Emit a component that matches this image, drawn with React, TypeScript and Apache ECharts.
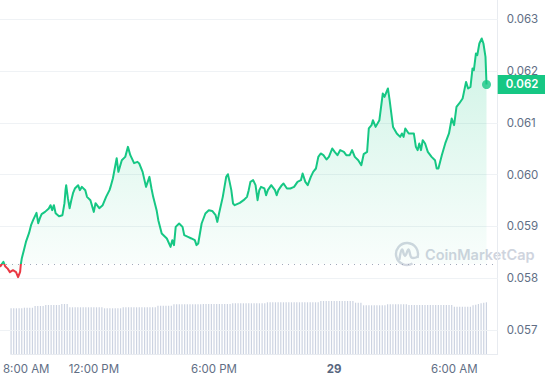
import React, { useEffect, useRef } from "react";
import * as echarts from "echarts";

// [minutes since 00:00 on the 28th, price in USD]
const pricePoints: [number, number][] = [
  [471, 0.058221], [481, 0.058317], [486, 0.058234], [494, 0.058182], [500, 0.058119],
  [509, 0.058157], [518, 0.058119], [524, 0.058022], [530, 0.058125], [532, 0.058267],
  [535, 0.058389], [541, 0.058543], [547, 0.058703], [556, 0.058871], [562, 0.059025],
  [568, 0.059122], [578, 0.059263], [583, 0.059064], [588, 0.059161], [593, 0.059238],
  [603, 0.059282], [614, 0.059348], [619, 0.059411], [624, 0.059315], [629, 0.059411],
  [634, 0.059257], [644, 0.059199], [654, 0.059218], [660, 0.05945], [663, 0.059701],
  [665, 0.059797], [670, 0.059546], [675, 0.059353], [680, 0.059508], [685, 0.059643],
  [691, 0.059739], [700, 0.059797], [705, 0.059701], [711, 0.059764], [721, 0.059701],
  [726, 0.059572], [736, 0.059508], [746, 0.059282], [751, 0.05945], [762, 0.059353],
  [772, 0.059411], [782, 0.059572], [792, 0.059701], [795, 0.059764], [802, 0.059932],
  [813, 0.060318], [818, 0.060054], [828, 0.06028], [838, 0.060343], [846, 0.060536],
  [853, 0.060376], [864, 0.060222], [874, 0.060247], [879, 0.060216], [889, 0.060054],
  [899, 0.059764], [909, 0.059957], [915, 0.059734], [920, 0.059572], [930, 0.059315],
  [935, 0.059122], [945, 0.058865], [960, 0.058769], [971, 0.058607], [976, 0.058736],
  [981, 0.05864], [986, 0.058993], [996, 0.059058], [1006, 0.058993], [1011, 0.058833],
  [1022, 0.0588], [1032, 0.058769], [1042, 0.058736], [1047, 0.05864], [1052, 0.058672],
  [1062, 0.059058], [1073, 0.059251], [1083, 0.059315], [1093, 0.059301], [1103, 0.059218],
  [1108, 0.059089], [1113, 0.059251], [1124, 0.059572], [1129, 0.059764], [1134, 0.059957],
  [1139, 0.060009], [1144, 0.059861], [1149, 0.059701], [1154, 0.059444], [1159, 0.059411],
  [1174, 0.059456], [1185, 0.059508], [1195, 0.059572], [1200, 0.059701], [1205, 0.059861],
  [1213, 0.059894], [1220, 0.059797], [1226, 0.059508], [1231, 0.059701], [1236, 0.059764],
  [1246, 0.059734], [1251, 0.059604], [1256, 0.059701], [1266, 0.059797], [1277, 0.059701],
  [1282, 0.059604], [1287, 0.059701], [1297, 0.059797], [1302, 0.05983], [1312, 0.059734],
  [1322, 0.059734], [1333, 0.059764], [1343, 0.059861], [1353, 0.059894], [1358, 0.060023],
  [1366, 0.059861], [1373, 0.059797], [1382, 0.059957], [1389, 0.060054], [1397, 0.060119],
  [1404, 0.060343], [1411, 0.060409], [1419, 0.060376], [1428, 0.060293], [1435, 0.060343],
  [1445, 0.060505], [1452, 0.06044], [1460, 0.060376], [1468, 0.060473], [1479, 0.06044],
  [1486, 0.060376], [1496, 0.060376], [1503, 0.060473], [1511, 0.060343], [1521, 0.06028],
  [1530, 0.060183], [1537, 0.060395], [1547, 0.06044], [1552, 0.060891], [1560, 0.060955],
  [1564, 0.061051], [1572, 0.060922], [1583, 0.061051], [1593, 0.061566], [1598, 0.061501],
  [1608, 0.061663], [1613, 0.061437], [1623, 0.060922], [1634, 0.060795], [1644, 0.060729],
  [1649, 0.060795], [1654, 0.060729], [1659, 0.060891], [1669, 0.060795], [1679, 0.060795],
  [1684, 0.060795], [1690, 0.060536], [1695, 0.060473], [1700, 0.060602], [1705, 0.060473],
  [1710, 0.060665], [1717, 0.060602], [1725, 0.06044], [1736, 0.060343], [1746, 0.06028],
  [1751, 0.060119], [1756, 0.060119], [1766, 0.060376], [1776, 0.060602], [1787, 0.060795],
  [1795, 0.061084], [1802, 0.060955], [1809, 0.061308], [1817, 0.061374], [1827, 0.06147],
  [1837, 0.06179], [1843, 0.061663], [1850, 0.061694], [1856, 0.062049], [1860, 0.062016],
  [1866, 0.062338], [1870, 0.062305], [1876, 0.062531], [1883, 0.062628], [1888, 0.062531],
  [1894, 0.062273], [1897, 0.06174],
];

// opening price of the 24h window (dotted reference line)
const BASELINE = 0.05828;

// price gridlines / y tick labels
const yTicks = [0.057, 0.058, 0.059, 0.06, 0.061, 0.062, 0.063];

// volume bars: one every 8 minutes starting at 07:52
const VOL_START = 472;
const VOL_STEP = 8;
const volumes = [
  45.7, 45.7, 45.7, 45.7, 45.7, 46.3, 46.3, 46.3, 46.3, 48, 48, 48, 48,
  49, 49, 49, 49, 49, 49, 50, 50, 50,
  46.7, 46.7, 46.7, 46.7, 46.7, 46.7, 46.7, 46.7, 46.7, 46.7, 46.7, 46.7, 46.7,
  45.7, 45.7, 45.7, 45.7, 45.7, 45.7, 45.7,
  46.7, 46.7, 46.7, 46.7, 46.7, 46.7, 46.7, 46.7, 46.7, 46.7, 46.7, 46.7, 46.7,
  48.3, 48.3, 48.3, 48.3, 48.3, 48.3,
  49.7, 49.7, 49.7, 49.7, 49.7, 49.7, 49.7, 49.7, 49.7, 49.7, 49.7,
  50, 50, 50, 50, 50, 50, 50, 50, 50, 50, 50,
  50.7, 50.7, 50.7, 50.7, 50.7, 50.7, 50.7, 50.7, 50.7, 50.7, 50.7, 50.7, 50.7,
  51.7, 51.7, 51.7, 51.7, 51.7, 51.7, 51.7, 51.7, 51.7, 51.7,
  51.7, 51.7, 51.7, 51.7, 51.7, 51.7, 51.7, 51.7, 51.7, 51.7,
  53, 53, 53, 53, 53, 53, 53, 53, 53, 53, 53, 53, 53,
  51.3, 51.3, 51.3,
  48.7, 48.7, 48.7, 48.7, 48.7, 48.7, 48.7, 48.7, 48.7,
  49.7, 49.7, 49.7, 49.7, 49.7, 49.7, 49.7, 49.7,
  49, 49, 49, 49, 49, 49, 49, 49, 49, 49, 49, 49, 49, 49, 49, 49, 49,
  47.3, 47.3, 47.3, 47.3, 47.3, 47.3, 47.3,
  48.7, 49.3, 50, 50.7, 51.3, 51.7,
];

// x-axis tick labels (minutes since 00:00 on the 28th)
const xTickLabels: Record<number, string> = {
  480: "8:00 AM",
  720: "12:00 PM",
  1080: "6:00 PM",
  1440: "29",
  1800: "6:00 AM",
};

const GREEN = "#16c784";
const RED = "#ea3943";
const LABEL = "#616e85";
const GRID_LINE = "#eff2f5";
const FONT = "Inter, 'Noto Sans', sans-serif";
const FS = 11.5;

const isThousandth = (v: number) => Math.abs(v * 1000 - Math.round(v * 1000)) < 1e-6;

export default function App() {
  const ref = useRef<HTMLDivElement>(null);

  useEffect(() => {
    if (!ref.current) return;
    const chart = echarts.init(ref.current, null, { renderer: "svg" });
    const last = pricePoints[pricePoints.length - 1];
    const volData = volumes.map((v, i) => [VOL_START + i * VOL_STEP, v]);

    const X_MIN = 471;
    const X_MAX = 1929.8;
    const Y_MIN = 0.05654;
    const Y_MAX = 0.06337;
    const RIGHT = 47.3;

    chart.setOption({
      animation: false,
      textStyle: { fontFamily: FONT },
      grid: [
        { left: 0, right: RIGHT, top: 0, bottom: 26 },
        { left: 0, right: RIGHT, top: 0, bottom: 26 },
      ],
      xAxis: [
        {
          type: "value",
          gridIndex: 0,
          min: X_MIN,
          max: X_MAX,
          show: false,
        },
        {
          type: "value",
          gridIndex: 1,
          min: X_MIN,
          max: X_MAX,
          interval: 3,
          axisLine: { show: true, lineStyle: { color: "#e8ebf0", width: 1 } },
          axisTick: { show: false },
          splitLine: { show: false },
          axisLabel: {
            margin: 9,
            color: LABEL,
            fontSize: FS,
            fontFamily: FONT,
            showMinLabel: false,
            showMaxLabel: false,
            formatter: (v: number) => {
              const k = Math.round(v);
              const t = Math.abs(v - k) < 1e-6 ? xTickLabels[k] : undefined;
              if (!t) return "";
              if (k === 480) return "{first|" + t + "}";
              if (k === 1440) return "{day|" + t + "}";
              return t;
            },
            rich: {
              first: { padding: [0, 0, 0, 25], color: LABEL, fontSize: FS, fontFamily: FONT },
              day: { fontWeight: "bold", color: "#58667e", fontSize: FS, fontFamily: FONT },
            },
          },
        },
      ],
      yAxis: [
        {
          type: "value",
          gridIndex: 0,
          position: "right",
          min: Y_MIN,
          max: Y_MAX,
          interval: 0.00001,
          axisLine: { show: false },
          axisTick: { show: false },
          splitLine: { show: false },
          axisLabel: {
            margin: 9,
            color: LABEL,
            fontSize: FS,
            fontFamily: FONT,
            showMinLabel: false,
            showMaxLabel: false,
            formatter: (v: number) => (isThousandth(v) ? v.toFixed(3) : ""),
          },
        },
        {
          type: "value",
          gridIndex: 1,
          position: "right",
          min: 0,
          max: 354,
          axisLine: { show: true, lineStyle: { color: "#e8ebf0", width: 1 } },
          axisTick: { show: false },
          axisLabel: { show: false },
          splitLine: { show: false },
        },
      ],
      visualMap: {
        show: false,
        type: "piecewise",
        seriesIndex: 1,
        dimension: 1,
        pieces: [
          { min: 0.05, max: BASELINE, color: RED },
          { min: BASELINE, max: 0.07, color: GREEN },
        ],
      },
      series: [
        {
          // horizontal price gridlines
          type: "line",
          xAxisIndex: 0,
          yAxisIndex: 0,
          data: [],
          z: 0,
          silent: true,
          markLine: {
            silent: true,
            precision: 6,
            symbol: ["none", "none"],
            label: { show: false },
            lineStyle: { type: "solid", color: GRID_LINE, width: 1 },
            data: yTicks.map((v) => ({ yAxis: v })),
          },
        },
        {
          type: "line",
          xAxisIndex: 0,
          yAxisIndex: 0,
          data: pricePoints,
          showSymbol: false,
          symbol: "none",
          z: 5,
          lineStyle: { width: 2, join: "round" },
          areaStyle: {
            origin: BASELINE,
            color: new echarts.graphic.LinearGradient(0, 0, 0, 1, [
              { offset: 0, color: "rgba(22,199,132,0.30)" },
              { offset: 1, color: "rgba(22,199,132,0.02)" },
            ]),
          },
          markLine: {
            silent: true,
            precision: 6,
            symbol: ["none", "none"],
            label: { show: false },
            lineStyle: { type: [1, 5], color: "#a1a9ba", width: 1 },
            data: [{ yAxis: BASELINE }],
          },
        },
        {
          type: "scatter",
          xAxisIndex: 0,
          yAxisIndex: 0,
          data: [last],
          symbol: "circle",
          symbolSize: 9,
          itemStyle: { color: GREEN },
          z: 6,
          markLine: {
            silent: true,
            precision: 6,
            symbol: ["none", "none"],
            lineStyle: { width: 0, color: "rgba(0,0,0,0)" },
            label: {
              show: true,
              position: "end",
              distance: 0,
              opacity: 1,
              formatter: () => last[1].toFixed(3),
              backgroundColor: GREEN,
              color: "#ffffff",
              fontSize: FS,
              fontWeight: 600,
              fontFamily: FONT,
              lineHeight: 12,
              padding: [4, 8, 3, 8],
            },
            data: [{ yAxis: last[1] }],
          },
        },
        {
          type: "bar",
          xAxisIndex: 1,
          yAxisIndex: 1,
          data: volData,
          barWidth: 1.2,
          clip: false,
          itemStyle: { color: "#ccd3e1" },
          z: 1,
        },
      ],
      graphic: [
        {
          type: "group",
          silent: true,
          z: 10,
          children: [
            {
              type: "arc",
              shape: {
                cx: 407,
                cy: 254,
                r: 11,
                startAngle: (60 * Math.PI) / 180,
                endAngle: (380 * Math.PI) / 180,
                clockwise: true,
              },
              style: { stroke: "#d2d7e0", lineWidth: 2.4, fill: null },
            },
            {
              type: "polyline",
              shape: {
                points: [
                  [399.5, 259],
                  [402, 249.5],
                  [405, 256],
                  [408.5, 249.5],
                  [411.5, 257.5],
                  [417.5, 257],
                ],
                smooth: 0.4,
              },
              style: { stroke: "#d2d7e0", lineWidth: 2.4, fill: null, lineJoin: "round", lineCap: "round" },
            },
            {
              type: "text",
              x: 425,
              y: 254,
              style: {
                text: "CoinMarketCap",
                fill: "#cfd4de",
                fontSize: 14.5,
                fontWeight: 600,
                fontFamily: FONT,
                textVerticalAlign: "middle",
                textAlign: "left",
              },
            },
          ],
        },
      ],
    });

    return () => chart.dispose();
  }, []);

  return (
    <div
      ref={ref}
      style={{ position: "fixed", left: 0, top: 0, width: 545, height: 380, background: "#ffffff" }}
    />
  );
}
